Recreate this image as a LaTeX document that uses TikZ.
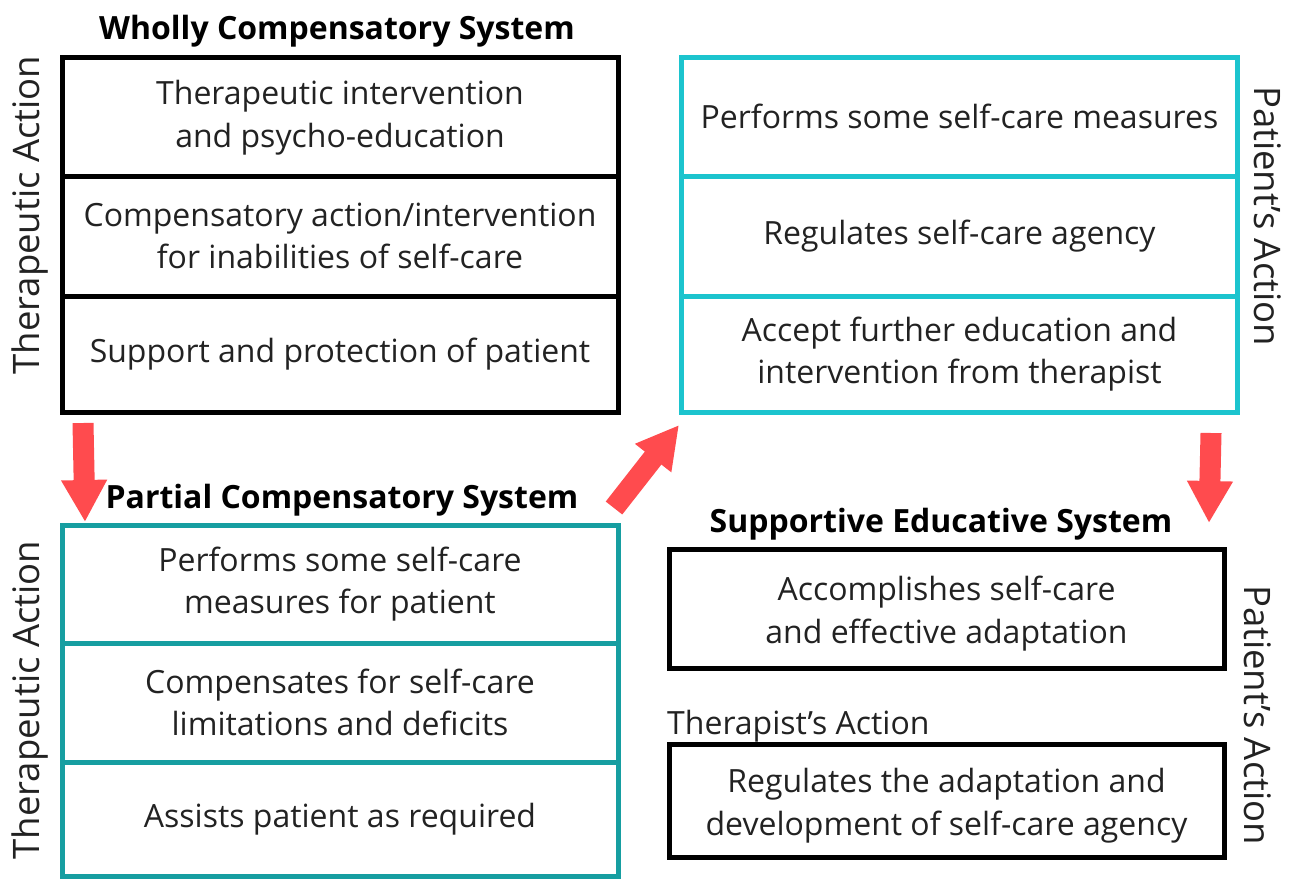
\documentclass[tikz,border=0pt]{standalone}
\usepackage{fontspec}
\setmainfont{Open Sans}
\usetikzlibrary{arrows.meta}
\definecolor{cyanbox}{HTML}{1CC4CE}
\definecolor{tealbox}{HTML}{169EA1}
\definecolor{redarrow}{HTML}{FF4B4E}
\definecolor{txt}{HTML}{222222}
\newcommand{\apos}{{\char"0027}}
\tikzset{
  cell/.style={draw, line width=5pt, minimum width=556pt, align=center, text=txt,
    font=\fontsize{32}{42}\selectfont, inner sep=0pt},
  celltext/.style={align=center, text=txt, font=\fontsize{32}{43}\selectfont, inner sep=0pt},
  title/.style={font=\bfseries\fontsize{32}{38}\selectfont, text=black, inner sep=0pt},
  side/.style={font=\fontsize{36.5}{42}\selectfont, text=txt, inner sep=0pt},
  bigarrow/.style={draw=redarrow, line width=21pt, -{Triangle[width=43pt,length=42pt]}, redarrow, shorten >=0pt}
}
\begin{document}
\begin{tikzpicture}[x=1pt,y=-1pt]
\useasboundingbox (0,0) rectangle (1295,879);
% Wholly compensatory
\node[title] (t1) at (337,31) {Wholly Compensatory System};
\node[cell, minimum height=119pt] (a1) at (340,116.5) {};
\node[celltext] (a1t) at (340,118) {Therapeutic intervention\\and psycho-education};
\node[cell, minimum height=120pt] (a2) at (340,236) {Compensatory action/intervention\\for inabilities of self-care};
\node[cell, minimum height=116pt] (a3) at (340,354) {Support and protection of patient};
\node[side, rotate=90] (s1) at (30,215) {Therapeutic Action};
% Patient's action top right
\node[cell, draw=cyanbox, minimum height=119pt] (b1) at (959.5,116.5) {Performs some self-care measures};
\node[cell, draw=cyanbox, minimum height=120pt] (b2) at (959.5,236) {Regulates self-care agency};
\node[cell, draw=cyanbox, minimum height=116pt] (b3) at (959.5,354) {Accept further education and\\intervention from therapist};
\node[side, rotate=-90] (s2) at (1268,216) {Patient\apos s Action};
% Partial compensatory
\node[title] (t2) at (342,500) {Partial Compensatory System};
\node[cell, draw=tealbox, minimum height=118pt] (c1) at (340,584) {Performs some self-care\\measures for patient};
\node[cell, draw=tealbox, minimum height=119pt] (c2) at (340,702.5) {Compensates for self-care\\limitations and deficits};
\node[cell, draw=tealbox, minimum height=114pt] (c3) at (340,819) {Assists patient as required};
\node[side, rotate=90] (s3) at (30,700) {Therapeutic Action};
% Supportive educative
\node[title] (t3) at (941,524) {Supportive Educative System};
\node[cell, minimum width=555pt, minimum height=119pt] (d1) at (946.5,608.5) {};
\node[celltext] (d1t) at (946.5,614) {Accomplishes self-care\\and effective adaptation};
\node[anchor=west, font=\fontsize{32}{38}\selectfont, text=txt, inner sep=0pt] (ta) at (667,726) {Therapist\apos s Action};
\node[cell, minimum width=555pt, minimum height=113pt] (d2) at (946.5,800.5) {};
\node[celltext] (d2t) at (946.5,806) {Regulates the adaptation and\\development of self-care agency};
\node[side, rotate=-90] (s4) at (1258,715) {Patient\apos s Action};
% arrows
\coordinate (p1) at (83,423);
\coordinate (q1) at (85,522);
\coordinate (p2) at (614,508);
\coordinate (q2) at (679,425);
\coordinate (p3) at (1211,433);
\coordinate (q3) at (1209,523);
\draw[bigarrow] (p1) -- (q1);
\draw[bigarrow] (p2) -- (q2);
\draw[bigarrow] (p3) -- (q3);
\end{tikzpicture}
\end{document}
